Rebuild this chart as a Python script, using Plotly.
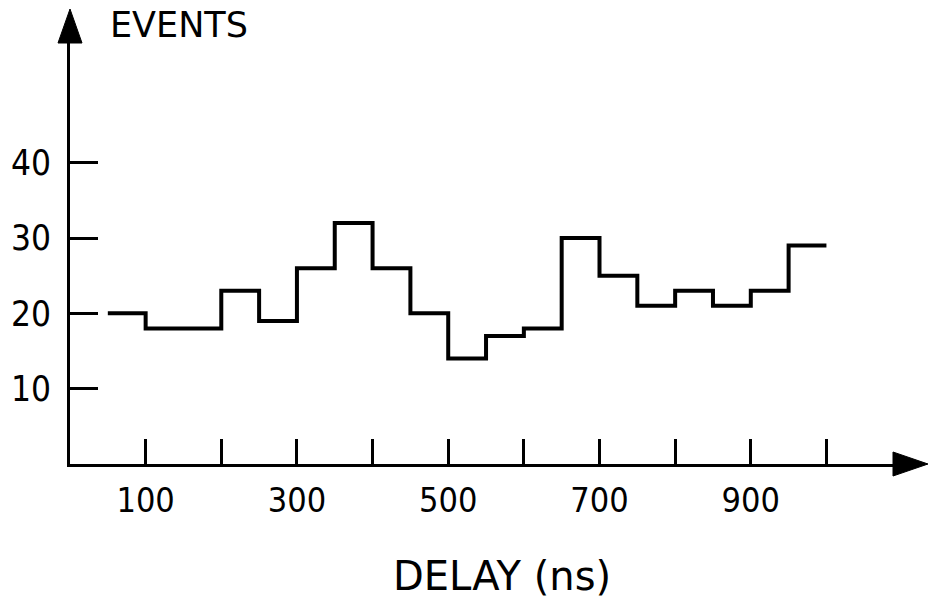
import plotly.graph_objects as go

# ---- data ----
bin_edges = [50, 100, 150, 200, 250, 300, 350, 400, 450, 500, 550, 600, 650,
             700, 750, 800, 850, 900, 950, 1000]
counts = [20, 18, 18, 23, 19, 26, 32, 26, 20, 14, 17, 18, 30, 25, 21, 23, 21, 23, 29]

x_tick_vals = [100, 200, 300, 400, 500, 600, 700, 800, 900, 1000]
x_tick_text = ["100", "", "300", "", "500", "", "700", "", "900", ""]
y_tick_vals = [10, 20, 30, 40]
y_tick_text = ["10", "20", "30", "40"]

x_label = "DELAY (ns)"
y_label = "EVENTS"

X_MAX = 1088
Y_MAX = 55.9

W, H = 928, 598
ML, MR, MT, MB = 70, 35, 43, 134
PW, PH = W - ML - MR, H - MT - MB


def px_to_paper_x(px):
    return (px - ML) / PW


def px_to_paper_y(py):
    return ((H - MB) - py) / PH


fig = go.Figure()
fig.add_trace(go.Scatter(
    x=bin_edges,
    y=counts + [counts[-1]],
    mode="lines",
    line=dict(shape="hv", color="black", width=4),
    hoverinfo="skip",
    showlegend=False,
))

fig.update_layout(
    width=W, height=H,
    margin=dict(l=ML, r=MR, t=MT, b=MB),
    paper_bgcolor="white", plot_bgcolor="white",
    xaxis=dict(range=[0, X_MAX], showgrid=False, zeroline=False, automargin=False,
               showline=True, linecolor="black", linewidth=3,
               ticks="inside", ticklen=25, tickwidth=2.5, tickcolor="black",
               tickvals=x_tick_vals, ticktext=x_tick_text,
               tickfont=dict(family="DejaVu Sans Condensed, DejaVu Sans, sans-serif",
                             size=34, color="black"),
               ticklabelstandoff=4),
    yaxis=dict(range=[0, Y_MAX], showgrid=False, zeroline=False, automargin=False,
               showline=True, linecolor="black", linewidth=3,
               ticks="inside", ticklen=28, tickwidth=2.5, tickcolor="black",
               tickvals=y_tick_vals, ticktext=y_tick_text,
               tickfont=dict(family="DejaVu Sans Condensed, DejaVu Sans, sans-serif",
                             size=35, color="black"),
               ticklabelstandoff=9),
    shapes=[
        dict(type="path", xref="paper", yref="paper",
             xsizemode="pixel", ysizemode="pixel",
             xanchor=1, yanchor=0,
             path="M 0,-12 L 35,0 L 0,12 Z",
             fillcolor="black", line=dict(color="black", width=1)),
        dict(type="path", xref="paper", yref="paper",
             xsizemode="pixel", ysizemode="pixel",
             xanchor=0, yanchor=1,
             path="M -12,0 L 0,34 L 12,0 Z",
             fillcolor="black", line=dict(color="black", width=1)),
    ],
    annotations=[
        dict(text=y_label, xref="paper", yref="paper",
             x=px_to_paper_x(108), y=px_to_paper_y(25),
             xanchor="left", yanchor="middle", showarrow=False,
             font=dict(family="DejaVu Sans, sans-serif", size=35, color="black")),
        dict(text=x_label, xref="paper", yref="paper",
             x=px_to_paper_x(502.5), y=px_to_paper_y(576),
             xanchor="center", yanchor="middle", showarrow=False,
             font=dict(family="DejaVu Sans, sans-serif", size=40, color="black")),
    ],
)

# remove the default page margin so the figure sits at the window's top-left
fig.write_html("out.html", config={"displayModeBar": False},
               post_script="document.body.style.margin='0';")
